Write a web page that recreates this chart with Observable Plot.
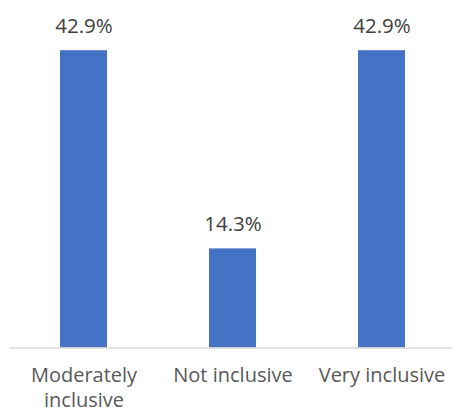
<!DOCTYPE html>
<html><head><meta charset="utf-8">
<script src="https://cdn.jsdelivr.net/npm/d3@7"></script>
<script src="https://cdn.jsdelivr.net/npm/@observablehq/plot@0.6"></script>
<style>body{margin:0;background:#fff;font-family:"Open Sans",sans-serif}</style>
</head><body><div id="chart"></div>
<script>
const categories = ["Moderately inclusive", "Not inclusive", "Very inclusive"];
const tickLabels = ["Moderately\ninclusive", "Not inclusive", "Very inclusive"];
const values = [42.9, 14.3, 42.9];
const data = categories.map((c, i) => ({category: c, value: values[i]}));

const chart = Plot.plot({
  width: 452, height: 414,
  marginLeft: 9, marginRight: -4, marginTop: 1, marginBottom: 66.5,
  style: {fontFamily: "Open Sans, sans-serif", fontSize: "20px", color: "#595959", background: "#fff"},
  x: {domain: categories, paddingInner: 0.685, paddingOuter: 0.3425, label: null},
  y: {domain: [0, 50], axis: null},
  marks: [
    Plot.barY(data, {x: "category", y: "value", fill: "#4472c4"}),
    Plot.ruleY([0], {stroke: "#d9d9d9", strokeWidth: 1.5}),
    Plot.text(data, {x: "category", y: "value", text: d => d.value.toFixed(1) + "%", dy: -24, fill: "#404040", fontSize: 20.5}),
    Plot.axisX({tickSize: 0, tickPadding: 16, fontSize: 20, fill: "#595959", tickFormat: (d) => tickLabels[categories.indexOf(d)], lineHeight: 1.25, label: null})
  ]
});
document.getElementById("chart").appendChild(chart);
</script></body></html>
